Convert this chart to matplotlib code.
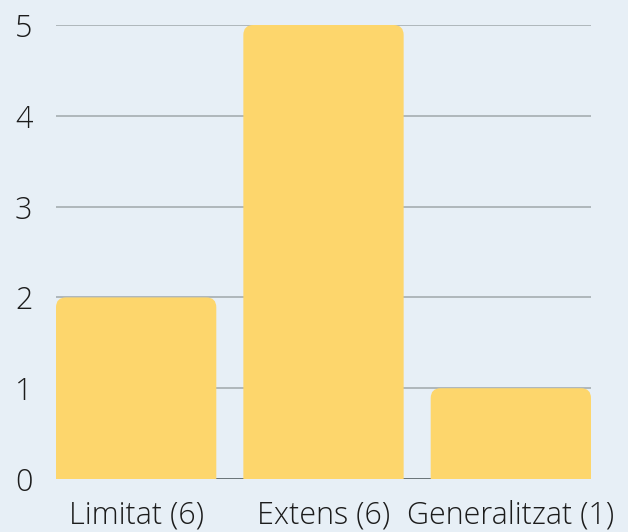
import matplotlib.pyplot as plt
from matplotlib.patches import PathPatch
from matplotlib.path import Path

categories = ['Limitat (6)', 'Extens (6)', 'Generalitzat (1)']
values = [2, 5, 1]
yticks = [0, 1, 2, 3, 4, 5]

bg = '#e7eff6'
bar_color = '#fdd66c'

plt.rcParams['font.family'] = ['Open Sans', 'DejaVu Sans']

fig = plt.figure(figsize=(6.28, 5.32), dpi=100, facecolor=bg)
ax = fig.add_axes([56 / 628, 53 / 532, 535 / 628, 454 / 532])
ax.set_facecolor(bg)

w = 160 / 187
ax.set_xlim(-w / 2, len(categories) - 1 + w / 2)
ax.set_ylim(0, 5)

for y in yticks:
    ax.axhline(y, color='#5f6a6d' if y == 0 else '#abb3b6', lw=1.3, zorder=1)

# rounded top corners, ~10 px radius
rx = 10 / 187
ry = 10 / 90.8
for i, v in enumerate(values):
    x0, x1 = i - w / 2, i + w / 2
    verts = [(x0, 0), (x0, v - ry), (x0, v), (x0 + rx, v), (x1 - rx, v),
             (x1, v), (x1, v - ry), (x1, 0), (x0, 0)]
    codes = [Path.MOVETO, Path.LINETO, Path.CURVE3, Path.CURVE3, Path.LINETO,
             Path.CURVE3, Path.CURVE3, Path.LINETO, Path.CLOSEPOLY]
    ax.add_patch(PathPatch(Path(verts, codes), fc=bar_color, ec='none', zorder=2))

ax.set_xticks(range(len(categories)))
ax.set_xticklabels(categories)
ax.set_yticks(yticks)
ax.tick_params(length=0, labelsize=22, labelcolor='#1c1c1c')
ax.tick_params(axis='y', pad=17)
ax.tick_params(axis='x', pad=15)
for lab in ax.get_xticklabels() + ax.get_yticklabels():
    lab.set_fontweight('light')
for s in ax.spines.values():
    s.set_visible(False)

fig.savefig('out.png', dpi=100, facecolor=bg)
